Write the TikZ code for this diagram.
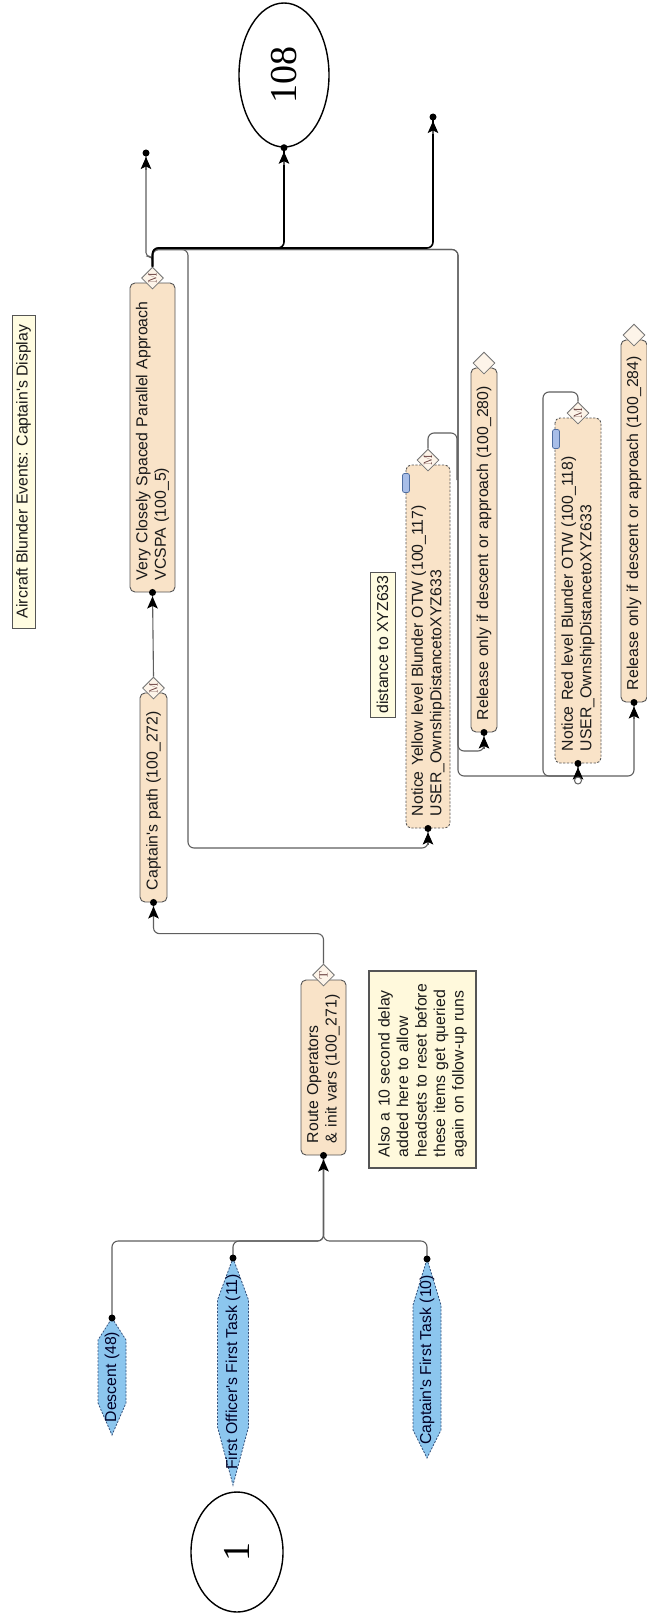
\documentclass[tikz,border=0pt]{standalone}
\usepackage{fontspec}
\usepackage{graphicx}
\newfontfamily\arialf{Liberation Sans}
\newfontfamily\timesf{Liberation Serif}
\usetikzlibrary{arrows.meta,shapes.geometric}
\definecolor{peach}{RGB}{249,227,200}
\definecolor{cream}{RGB}{255,252,225}
\definecolor{notecol}{RGB}{255,249,220}
\definecolor{boxline}{RGB}{85,85,85}
\definecolor{linec}{RGB}{95,95,95}
\definecolor{spinfill}{RGB}{140,198,238}
\definecolor{spinline}{RGB}{52,80,122}
\definecolor{mred}{RGB}{90,45,45}
\definecolor{iconfill}{RGB}{168,190,232}
\definecolor{iconline}{RGB}{80,110,160}
\newcommand\mkM{\rotatebox{90}{\fontsize{12}{12}\selectfont\color{mred}M}}
\newcommand\mkT{\rotatebox{90}{\fontsize{12}{12}\selectfont\color{mred}T}}
\newcommand\tdot[1]{\fill[black] (#1) circle[radius=3.5pt];}
\newcommand\tarr[1]{\draw[tipline] ([yshift=-17pt]#1) -- (#1); \fill[black] (#1) circle[radius=3.5pt];}
\tikzset{
  basefont/.style={font=\arialf\fontsize{15.8}{18.5}\selectfont, text=black!90},
  pbox/.style={basefont, rotate=90, draw=boxline, fill=peach, rounded corners=5pt,
    line width=0.9pt, inner ysep=2pt, inner xsep=12pt, align=left},
  nbox/.style={pbox, dash pattern=on 2.2pt off 1.6pt},
  cbox/.style={basefont, rotate=90, draw=boxline, fill=cream, line width=1pt, inner sep=0pt},
  notebox/.style={basefont, rotate=90, draw=boxline, fill=notecol, line width=1.8pt,
    inner xsep=11pt, inner ysep=2pt, align=left},
  dmd/.style={diamond, draw=black!55, fill=peach!40, minimum width=22pt, minimum height=22pt,
    inner sep=0pt, line width=0.8pt},
  ell/.style={ellipse, draw=black, line width=1.4pt, fill=white, inner sep=0pt,
    font=\timesf\fontsize{38}{38}\selectfont},
  spin/.style={fill=spinfill, draw=spinline, line width=0.8pt, dash pattern=on 2pt off 1.5pt},
  spintext/.style={basefont, rotate=90, inner sep=0pt, text=black!85!blue},
  conn/.style={draw=linec, line width=1.1pt, rounded corners=6pt},
  tipline/.style={draw=linec, line width=1.1pt, sharp corners,
    -{Stealth[length=12pt,width=10.5pt,inset=2.5pt,color=black]}, shorten >=4pt},
  bus/.style={draw=black, line width=1.6pt},
  odot/.style={circle, draw=linec, fill=white, line width=1pt, minimum size=7pt, inner sep=0pt},
  icon/.style={rounded corners=2pt, draw=iconline, fill=iconfill, line width=0.7pt,
    minimum width=7pt, minimum height=19pt, inner sep=0pt},
}
\begin{document}
\begin{tikzpicture}[x=1pt,y=-1pt]
\useasboundingbox (0,0) rectangle (646,1621);
\fill[white] (0,0) rectangle (646,1621);

% title and labels
\node[cbox, minimum width=313pt, minimum height=23pt] (title) at (23.5,471.5) {Aircraft Blunder Events: Captain's Display};
\node[cbox, minimum width=145pt, minimum height=25pt] (dist) at (382.5,644.5) {distance to XYZ633};
\node[notebox, minimum width=197pt, minimum height=107pt, text width=175pt] (note) at (422.5,1069.5)
  {Also a 10 second delay\\added here to allow\\headsets to reset before\\these items get queried\\again on follow-up runs};

% task boxes
\node[pbox, minimum width=309pt, text width=285pt, minimum height=45pt] (vc) at (152.5,437.5)
  {Very Closely Spaced Parallel Approach\\VCSPA (100\_5)};
\node[pbox, minimum width=209pt, text width=185pt, minimum height=27pt] (cp) at (153.5,797.5)
  {Captain's path (100\_272)};
\node[pbox, minimum width=175pt, text width=151pt, minimum height=45pt] (rt) at (323.5,1067.5)
  {Route Operators\\\& init vars (100\_271)};
\node[nbox, minimum width=363pt, text width=339pt, minimum height=44pt] (ny) at (428,646.5)
  {Notice Yellow level Blunder OTW (100\_117)\\USER\_OwnshipDistancetoXYZ633};
\node[pbox, minimum width=364pt, text width=340pt, minimum height=26pt] (r280) at (484,550)
  {Release only if descent or approach (100\_280)};
\node[nbox, minimum width=345pt, text width=321pt, minimum height=46pt] (nr) at (578,590.5)
  {Notice Red level Blunder OTW (100\_118)\\USER\_OwnshipDistancetoXYZ633};
\node[pbox, minimum width=362pt, text width=338pt, minimum height=26pt] (r284) at (634,521)
  {Release only if descent or approach (100\_284)};

% diamonds
\node[dmd] (vc-d) at ([yshift=4.5pt]vc.east) {\mkM};
\node[dmd] (cp-d) at ([yshift=4.5pt]cp.east) {\mkM};
\node[dmd] (rt-d) at ([yshift=4.5pt]rt.east) {\mkT};
\node[dmd] (ny-d) at ([yshift=4.5pt]ny.east) {\mkM};
\node[dmd] (r280-d) at ([yshift=4.5pt]r280.east) {};
\node[dmd] (nr-d) at ([yshift=4.5pt]nr.east) {\mkM};
\node[dmd] (r284-d) at ([yshift=4.5pt]r284.east) {};

% icons
\node[icon] (ic1) at (406,483) {};
\node[icon] (ic2) at (556,439) {};

% ellipses
\node[ell, minimum width=90pt, minimum height=144pt] (e108) at (284,75) {\rotatebox{90}{108}};
\node[ell, minimum width=92pt, minimum height=120pt] (e1) at (237,1552) {\rotatebox{90}{1}};

% spindles
\draw[spin] (112,1318) -- (126,1340) -- (126,1403) -- (112,1435) -- (98,1403) -- (98,1340) -- cycle;
\node[spintext] (desc) at (112,1377) {Descent (48)};
\coordinate (desc-top) at (112,1318);
\draw[spin] (233,1258) -- (248.5,1300) -- (248.5,1427) -- (233,1485) -- (217.5,1427) -- (217.5,1300) -- cycle;
\node[spintext] (fo) at (233,1372) {First Officer's First Task (11)};
\coordinate (fo-top) at (233,1258);
\draw[spin] (427,1259) -- (441,1305) -- (441,1430) -- (427,1458) -- (413,1430) -- (413,1305) -- cycle;
\node[spintext] (ca) at (427,1360) {Captain's First Task (10)};
\coordinate (ca-top) at (427,1259);

% free ends and junctions
\coordinate (fe1) at (146,153);
\coordinate (fe2) at (433,117);
\coordinate (jn) at (323.5,1241);
\coordinate (jr) at (578,776);

% connectors
\draw[conn] (cp-d.north) -- (vc.west);
\draw[conn] (rt-d.north) -- ++(0,-30) -| (cp.west);
\draw[conn] (desc-top) |- (jn) -- (rt.west);
\draw[conn] (fo-top) |- (jn) -- (rt.west);
\draw[conn] (ca-top) |- (jn) -- (rt.west);

\draw[conn, rounded corners=4pt] (vc-d.north) -- ++(0,-10) -| (fe1);
\draw[conn] (vc-d.north) |- (188,249.5) -- (188,848) -| (ny.west);
\draw[conn] (vc-d.north) |- (458,249.5) -- (458,751) -| (r280.west);
\draw[conn] (vc-d.north) |- (458,249.5) -- (458,776) -| (r284.west);
\draw[conn, bus] (vc-d.north) |- (284,248) -- (e108.south);
\draw[conn, bus] (vc-d.north) |- (433,248) -- (fe2);
\draw[conn] (ny-d.north) |- (457,433) -- (457,480);
\draw[conn] (nr-d.north) |- (543,392) |- (jr);
\draw[conn] (jr) -- (nr.west);

% arrowheads and end dots
\tarr{vc.west}\tarr{cp.west}\tarr{rt.west}\tarr{ny.west}\tarr{r280.west}
\tarr{nr.west}\tarr{r284.west}\tarr{e108.south}\tarr{fe1}\tarr{fe2}
\tdot{desc-top}\tdot{fo-top}\tdot{ca-top}
\node[odot] (jro) at (578,780.5) {};
\end{tikzpicture}
\end{document}
